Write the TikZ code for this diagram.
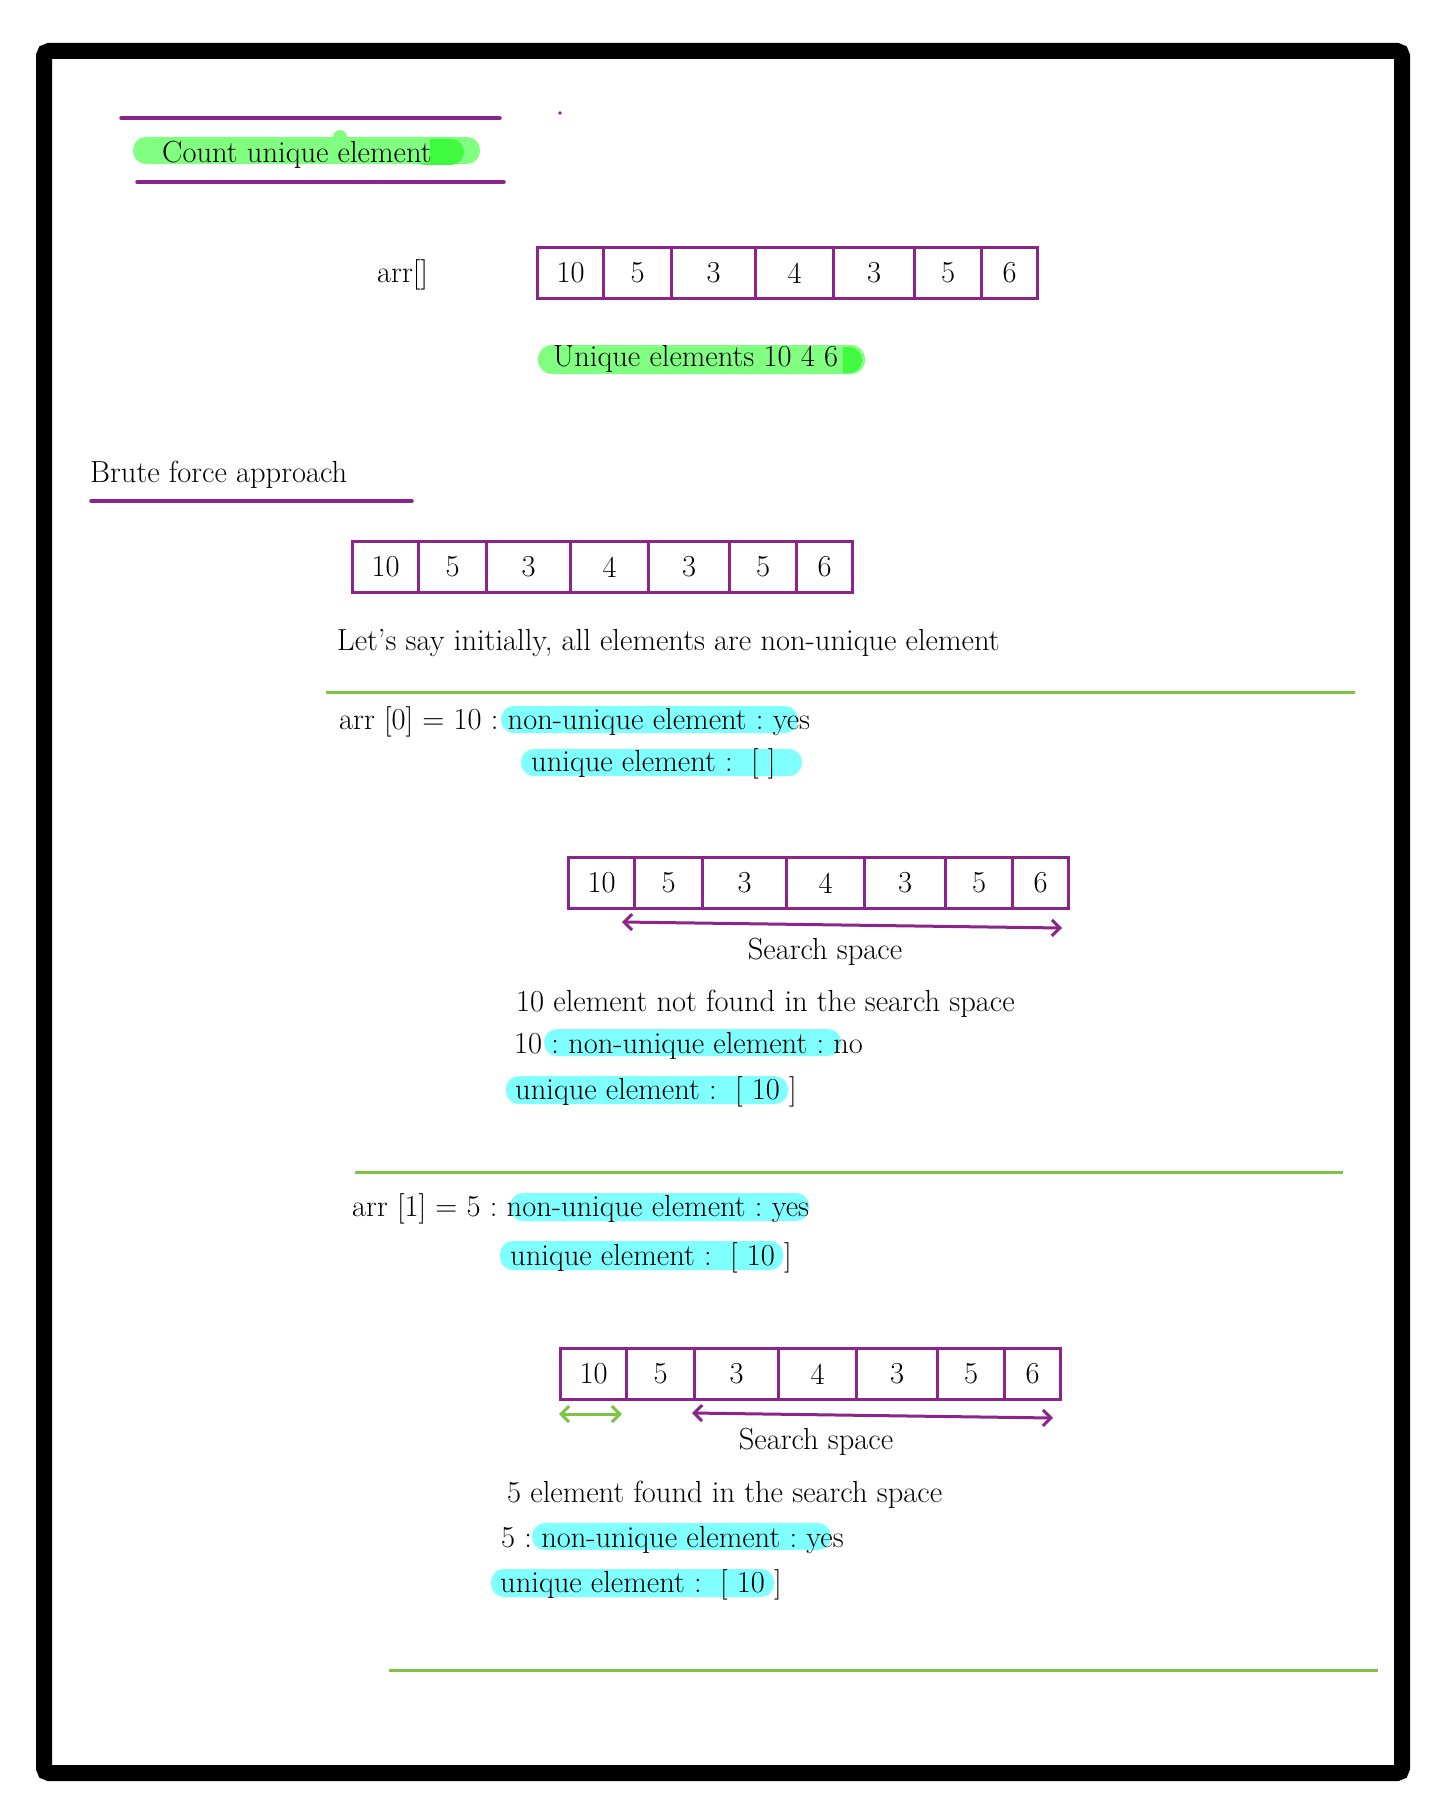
\documentclass[tikz,border=0pt]{standalone}
\usetikzlibrary{arrows.meta}
\definecolor{penpurple}{RGB}{139,36,139}
\definecolor{pengreen}{RGB}{125,196,66}
\definecolor{hlcyan}{RGB}{128,255,255}
\definecolor{hlgreen}{RGB}{128,255,128}
\definecolor{hldeep}{RGB}{64,250,64}
\frenchspacing

\newcommand{\numrow}[3]{%
  \foreach \cv/\co/\cw [count=\k] in {10/0/66,5/66/68,3/134/84,4/218/78,3/296/81,5/377/67,6/444/56}
    \node[cellbox, minimum width=\cw pt] (#1-\k) at (#2+\co,#3) {\cv};
}

\begin{document}
\begin{tikzpicture}[x=1pt, y=-1pt,
  txt/.style={anchor=base west, inner sep=0pt, font=\fontsize{30.5}{36}\selectfont},
  cellbox/.style={draw=penpurple, line width=3pt, anchor=north west, minimum height=51pt, inner sep=0pt, font=\fontsize{30.5}{36}\selectfont},
  hl/.style={fill=hlcyan, rounded corners=13pt},
  sepline/.style={pengreen, line width=3pt},
  penline/.style={penpurple, line width=3.5pt, line cap=round},
  searcharrow/.style={line width=3pt, line cap=round, {Straight Barb[length=8pt,width=16pt]}-{Straight Barb[length=8pt,width=16pt]}}]
\useasboundingbox (0,0) rectangle (1445,1814);
\fill[white] (0,0) rectangle (1445,1814);
\draw[line width=16pt, rounded corners=5pt] (44,51) rectangle (1402,1773);

\draw[penline] (121,118) -- (500,118);
\draw[penline] (137,182) -- (504,182);
\fill[hlgreen, rounded corners=13pt] (133,137) rectangle (480,164);
\fill[hldeep, rounded corners=13pt] (412,139) rectangle (464,165);
\fill[hlgreen] (150,137) rectangle (430,163);
\fill[hlgreen] (340,137) circle (7);
\node[txt] (title) at (162,163) {Count unique element};
\fill[penpurple] (560,113) circle (1.8);

\node[txt] (arrlabel) at (377,282) {arr[]};
\numrow{top}{536}{246}
\fill[hlgreen, rounded corners=14pt] (538,345) rectangle (865,374);
\fill[hldeep, rounded corners=13pt] (815,347) rectangle (862,373);
\fill[hlgreen] (553,345) rectangle (843,374);
\node[txt] (uniq) at (553,366) {Unique elements 10 4 6};

\node[txt] (brute) at (90,482) {Brute force approach};
\draw[penline] (91,501) -- (412,501);
\numrow{brute}{351}{540}
\node[txt] (initial) at (337,650) {Let's say initially, all elements are non-unique element};
\draw[sepline] (326,692) -- (1355,692);

\fill[hl] (501,706) rectangle (798,733);
\node[txt] (s0a) at (339,729) {arr [0] = 10 : non-unique element : yes};
\fill[hl] (521,749) rectangle (802,776);
\node[txt] (s0b) at (531,771) {unique element :\ \ [ ]};
\numrow{zero}{567}{856}
\coordinate (zl) at (622,922);
\coordinate (zr) at (1062,928);
\draw[searcharrow, penpurple] (zl) -- (zr);
\node[txt, anchor=base] (zspace) at (825,959) {Search space};
\node[txt] (zres) at (516,1011) {10 element not found in the search space};
\fill[hl] (544,1029) rectangle (841,1056);
\node[txt] (zc) at (514,1053) {10 : non-unique element : no};
\fill[hl] (506,1076) rectangle (788,1104);
\node[txt] (zd) at (515,1099) {unique element :\ \ [ 10 ]};
\draw[sepline] (355,1172) -- (1343,1172);

\fill[hl] (510,1193) rectangle (809,1221);
\node[txt] (s1a) at (352,1216) {arr [1] = 5 : non-unique element : yes};
\fill[hl] (500,1241) rectangle (783,1270);
\node[txt] (s1b) at (510,1265) {unique element :\ \ [ 10 ]};
\numrow{one}{559}{1347}
\coordinate (gl) at (559,1414);
\coordinate (gr) at (622,1414);
\draw[searcharrow, pengreen] (gl) -- (gr);
\coordinate (ol) at (692,1413);
\coordinate (orr) at (1053,1418);
\draw[searcharrow, penpurple] (ol) -- (orr);
\node[txt, anchor=base] (ospace) at (816,1449) {Search space};
\node[txt] (ores) at (507,1502) {5 element found in the search space};
\fill[hl] (532,1523) rectangle (831,1550);
\node[txt] (oc) at (501,1547) {5 : non-unique element : yes};
\fill[hl] (491,1569) rectangle (774,1597);
\node[txt] (od) at (500,1592) {unique element :\ \ [ 10 ]};
\draw[sepline] (389,1670) -- (1378,1670);
\end{tikzpicture}
\end{document}
